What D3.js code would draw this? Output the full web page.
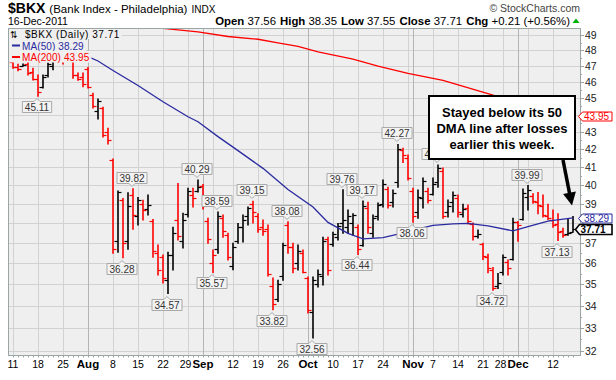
<!DOCTYPE html>
<html><head><meta charset="utf-8">
<script src="https://cdn.jsdelivr.net/npm/d3@7"></script>
<style>
body{margin:0;background:#fff;}
svg{display:block;font-family:"Liberation Sans",Arial,Helvetica,sans-serif;}
</style>
</head><body>
<svg id="c" width="616" height="380"></svg>
<script>
// ---------------- DATA ----------------
const firstDay = "2011-07-11", lastDay = "2011-12-16";
const holidays = ["2011-09-05", "2011-11-24"];
const prevCloseBefore = 47.35;

const opens = [47.25,46.95,47.02,47.10,46.60,46.20,45.70,46.40,47.00,47.60,
48.00,47.70,47.30,46.45,46.30,46.80,45.20,44.20,44.40,43.00,
41.40,37.10,39.20,37.10,39.50,38.40,39.00,38.75,38.10,36.50,
36.30,35.20,36.40,38.20,37.10,38.50,39.50,39.70,39.95,38.10,
36.00,36.70,38.30,37.40,35.90,37.10,37.80,38.40,39.00,38.40,
37.80,37.70,34.90,34.30,35.40,37.90,36.80,36.00,36.50,35.30,
33.70,35.00,35.40,37.20,36.95,37.30,38.00,37.80,38.00,37.80,
36.90,38.80,37.50,38.40,39.00,39.80,39.10,40.20,41.95,41.50,
39.70,38.60,39.30,39.70,39.55,40.20,40.80,38.60,39.10,39.30,
38.50,38.80,37.95,37.35,36.95,36.30,35.70,34.90,35.60,36.05,
36.20,38.05,38.25,39.40,39.45,39.10,38.90,38.40,38.20,37.95,
37.60,37.45,37.56];
const highs = [47.30,47.10,47.12,47.23,46.85,46.42,46.42,47.18,47.45,48.40,
48.15,47.85,47.50,46.55,46.55,46.90,45.30,44.95,44.45,43.20,
41.45,39.70,39.30,39.60,39.82,39.35,39.20,39.48,38.20,36.91,
36.42,36.55,37.80,40.10,38.53,39.85,39.85,40.29,40.05,38.27,
36.66,38.59,38.43,37.50,37.00,38.00,38.43,38.85,39.15,38.50,
38.17,37.92,35.30,35.20,37.00,38.08,37.00,36.91,36.66,35.35,
35.35,35.68,37.30,37.30,37.55,38.00,39.76,38.69,38.50,37.92,
39.17,39.10,38.43,39.06,40.29,39.90,39.75,42.27,42.05,41.68,
39.85,39.75,40.40,39.85,40.40,41.12,40.95,39.22,39.65,39.48,
39.00,38.96,38.02,37.66,37.00,36.45,35.80,35.52,36.42,36.17,
38.27,38.10,39.80,39.99,39.55,39.62,39.48,39.00,38.69,38.50,
37.75,38.20,38.35];
const lows = [46.85,46.70,46.98,46.42,46.11,45.11,45.62,46.30,46.75,47.50,
47.12,47.40,46.23,46.10,45.70,45.62,44.40,43.75,42.70,42.30,
36.50,36.55,36.28,36.70,37.70,37.92,38.17,38.43,36.30,35.44,
35.06,34.57,35.68,37.16,36.76,38.33,38.85,39.64,38.75,37.00,
35.57,36.50,37.30,36.17,35.70,37.00,37.06,37.92,38.02,37.55,
37.40,35.40,33.82,34.20,35.20,36.50,35.55,35.68,35.55,33.67,
32.56,34.88,34.97,35.44,36.85,37.16,37.50,37.50,37.40,36.44,
36.85,37.50,37.30,38.17,38.85,38.80,38.85,39.90,41.25,40.29,
38.06,38.27,38.80,39.06,39.48,39.90,38.27,38.33,38.59,38.33,
38.33,37.98,37.16,37.26,36.20,35.55,34.72,34.80,35.44,35.44,
36.17,37.10,38.17,38.70,39.05,38.50,38.33,38.20,37.80,37.13,
37.30,37.40,37.55];
const closes = [46.95,46.80,47.08,46.55,46.20,45.40,46.30,47.10,47.40,48.20,
47.55,47.45,46.40,46.20,45.85,45.70,44.50,44.80,42.80,42.55,
36.70,39.65,37.00,38.90,38.45,39.20,38.70,38.95,36.60,35.70,
35.30,36.40,37.50,37.35,38.20,39.70,39.30,39.90,38.90,37.20,
36.40,38.40,37.60,36.30,36.80,37.80,38.20,38.80,38.60,37.70,
37.60,35.50,34.10,35.00,36.90,36.80,35.80,36.60,35.60,33.80,
35.20,35.50,37.10,35.70,37.45,37.85,38.20,38.40,38.45,36.70,
38.90,37.80,38.30,38.95,40.10,38.95,39.60,42.00,41.70,40.40,
38.40,39.40,40.25,39.20,40.10,40.95,38.40,38.90,39.50,38.60,
38.75,38.10,37.35,37.45,36.35,35.80,34.85,35.05,36.30,35.80,
38.05,37.90,39.60,39.75,39.15,38.95,38.45,38.30,37.90,37.55,
37.40,37.50,37.71];

const ma50Idx = [15,17,20,25,30,35,37,41,45,50,55,60,63,67,70,74,77,80,84,88,91,95,100,103,107,112];
const ma50Val = [47.59,47.31,46.71,45.77,44.78,43.88,43.59,42.72,41.92,40.93,39.78,38.85,38.05,37.49,37.22,37.28,37.45,37.66,37.90,37.98,38.00,37.87,37.62,37.84,38.12,38.29];
const ma200Idx = [25,29,37,43,49,53,57,61,68,73,79,86,96,104,112];
const ma200Val = [49.75,49.47,49.21,48.90,48.72,48.48,48.25,47.89,47.43,46.98,46.53,46.09,45.18,44.55,43.95];

const labelIdx  = [5,22,24,31,37,40,41,48,52,55,60,66,69,70,77,80,85,96,103,109];
const labelKind = ["L","L","H","L","H","L","H","H","L","H","L","H","L","H","H","L","H","L","H","L"];

const yTickValues = [32,33,34,35,36,37,38,39,40,41,42,43,44,45,46,47,48,49];
const xTickLabels = [["2011-07-11","11"],["2011-07-18","18"],["2011-07-25","25"],["2011-08-01","Aug"],
["2011-08-08","8"],["2011-08-15","15"],["2011-08-22","22"],["2011-08-29","29"],["2011-09-01","Sep"],
["2011-09-12","12"],["2011-09-19","19"],["2011-09-26","26"],["2011-10-03","Oct"],["2011-10-10","10"],
["2011-10-17","17"],["2011-10-24","24"],["2011-11-01","Nov"],["2011-11-07","7"],["2011-11-14","14"],
["2011-11-21","21"],["2011-11-28","28"],["2011-12-01","Dec"],["2011-12-12","12"]];
const monthNames = ["Aug","Sep","Oct","Nov","Dec"];

const header = {symbol:"$BKX", name:"(Bank Index - Philadelphia)", exch:"INDX", date:"16-Dec-2011"};
const quoteLabels = ["Open","High","Low","Close","Chg"];
const quoteValues = ["37.56","38.35","37.55","37.71","+0.21 (+0.56%)"];
const noteLines = ["Stayed below its 50","DMA line after losses","earlier this week."];

// ---------------- SETUP ----------------
function tradingDays(){
  const out=[]; let t=Date.parse(firstDay+"T00:00:00Z"); const end=Date.parse(lastDay+"T00:00:00Z");
  while(t<=end){const d=new Date(t); const wd=d.getUTCDay(); const s=d.toISOString().slice(0,10);
    if(wd>0&&wd<6&&!holidays.includes(s)) out.push(s); t+=864e5;}
  return out;
}
const dates = tradingDays();
const bars = dates.map((d,i)=>({d,i,o:opens[i],h:highs[i],l:lows[i],c:closes[i],
  up: closes[i] >= (i?closes[i-1]:prevCloseBefore)}));

const P = {l:8, r:580, t:28, b:355};
const x = d3.scalePoint().domain(dates).range([13,573]);
const xi = i => x(dates[i]);
const y = d3.scaleLog().domain([31.818,49.465]).range([P.b,P.t]);

const svg = d3.select("#c");
const PLOTBG = "#efefef", GRID="#d2d2d2", GRIDM="#b4b4b4", AXIS="#9aa6a6";
const RED="#ff0000", BLUE="#2a2aa0";

svg.append("rect").attr("width",616).attr("height",380).attr("fill","#fff");
svg.append("defs").append("clipPath").attr("id","clip").append("rect")
  .attr("x",P.l).attr("y",P.t).attr("width",P.r-P.l).attr("height",P.b-P.t);
svg.append("rect").attr("x",P.l).attr("y",P.t).attr("width",P.r-P.l).attr("height",P.b-P.t).attr("fill",PLOTBG);

const plot = svg.append("g").attr("clip-path","url(#clip)");

// gridlines
plot.selectAll("line.hg").data(yTickValues).join("line")
  .attr("x1",P.l).attr("x2",P.r).attr("y1",v=>Math.round(y(v))+0.5).attr("y2",v=>Math.round(y(v))+0.5)
  .attr("stroke",GRID).attr("stroke-width",1);
const vg = [];
dates.forEach((d,i)=>{
  const dt=new Date(d+"T00:00:00Z"), pv=i?new Date(dates[i-1]+"T00:00:00Z"):null;
  const week = !pv || dt.getUTCDay()<pv.getUTCDay();
  const month = pv && dt.getUTCMonth()!==pv.getUTCMonth();
  if(week||month) vg.push({i,month});
});
plot.selectAll("line.vg").data(vg).join("line")
  .attr("x1",g=>xi(g.i)+0.5).attr("x2",g=>xi(g.i)+0.5).attr("y1",P.t).attr("y2",P.b)
  .attr("stroke",g=>g.month?GRIDM:GRID).attr("stroke-width",1);

// bars
const bg = plot.append("g");
bars.forEach(b=>{
  const col=b.up?"#000":RED, cx=xi(b.i);
  bg.append("line").attr("x1",cx).attr("x2",cx).attr("y1",y(b.h)-0.5).attr("y2",y(b.l)+0.5)
    .attr("stroke",col).attr("stroke-width",1.6);
  const yo=Math.round(y(b.o))+0.5, yc=Math.round(y(b.c))+0.5;
  bg.append("line").attr("x1",cx-3.5).attr("x2",cx).attr("y1",yo).attr("y2",yo).attr("stroke",col).attr("stroke-width",1.2);
  bg.append("line").attr("x1",cx).attr("x2",cx+3.5).attr("y1",yc).attr("y2",yc).attr("stroke",col).attr("stroke-width",1.2);
});

// moving averages
const line = d3.line().x(d=>xi(d[0])).y(d=>y(d[1]));
plot.append("path").attr("d",line(ma200Idx.map((k,j)=>[k,ma200Val[j]]))).attr("fill","none").attr("stroke",RED).attr("stroke-width",1.3);
plot.append("path").attr("d",line(ma50Idx.map((k,j)=>[k,ma50Val[j]]))).attr("fill","none").attr("stroke",BLUE).attr("stroke-width",1.3);

// price labels
const lg = plot.append("g").attr("font-size","10px").attr("fill","#333");
labelIdx.forEach((k,j)=>{
  const isH = labelKind[j]==="H";
  const v = isH?highs[k]:lows[k];
  const txt = v.toFixed(2);
  const cx = xi(k)-1, vy = y(v);
  const t = lg.append("text").attr("text-anchor","middle").attr("x",cx).text(txt);
  const w = t.node().getComputedTextLength()+5, hh=11;
  let top, path;
  if(isH){
    const bot=Math.round(vy-6)+0.5; top=bot-hh;
    path=`M${cx-w/2},${top}H${cx+w/2}V${bot}H${cx+3}L${cx},${bot+3}L${cx-3},${bot}H${cx-w/2}Z`;
  } else {
    top=Math.round(vy+5)+0.5; const bot=top+hh;
    path=`M${cx-w/2},${top}H${cx-3}L${cx},${top-3}L${cx+3},${top}H${cx+w/2}V${bot}H${cx-w/2}Z`;
  }
  lg.insert("path","text").attr("d",path).attr("fill","#f3f3f3").attr("stroke","#a9a9a9").attr("stroke-width",1);
  t.attr("y",top+hh/2+3.6);
});

// legend (each line has its own background strip)
const leg = svg.append("g").attr("font-size","10px");
const legLines = [
  {x:25, y:38, col:"#000", txt:"$BKX (Daily) "+closes[closes.length-1].toFixed(2), ls:0.55, mark:null},
  {x:22, y:49.5, col:BLUE, txt:"MA(50) "+ma50Val[ma50Val.length-1].toFixed(2), ls:0.1, mark:BLUE},
  {x:22, y:61, col:RED, txt:"MA(200) "+ma200Val[ma200Val.length-1].toFixed(2), ls:0.1, mark:RED}
];
legLines.forEach((L,k)=>{
  const r = leg.append("rect").attr("fill",PLOTBG);
  const t = leg.append("text").attr("x",L.x).attr("y",L.y).attr("fill",L.col).attr("letter-spacing",L.ls).text(L.txt);
  const w = t.node().getComputedTextLength();
  r.attr("x",P.l+1).attr("y",L.y-10 + (k===0?0:0)).attr("width",L.x+w-P.l+1).attr("height",k===0?11:11.5);
  if(L.mark) leg.append("line").attr("x1",12).attr("x2",20).attr("y1",L.y-4).attr("y2",L.y-4).attr("stroke",L.mark).attr("stroke-width",2);
});
leg.append("text").attr("x",10).attr("y",38).attr("font-size","9px").attr("fill","#000").text("⇅");

// annotation box & arrow
const ann = svg.append("g");
ann.append("rect").attr("x",429).attr("y",96).attr("width",146).attr("height",63).attr("fill","#fff").attr("stroke","#000").attr("stroke-width",2);
ann.selectAll("text").data(noteLines).join("text").attr("x",502).attr("y",(d,i)=>116.5+i*16.2)
  .attr("text-anchor","middle").attr("font-weight","bold").attr("font-size","13px").attr("fill","#000").text(d=>d);
const tipX = xi(112)-1, tipY = y(highs[112])-11;
const sx=563, sy=160, dx=tipX-sx, dy=tipY-sy, len=Math.hypot(dx,dy), ux=dx/len, uy=dy/len;
const bx=tipX-ux*13, by=tipY-uy*13;
ann.append("line").attr("x1",sx).attr("y1",sy).attr("x2",bx+ux*2).attr("y2",by+uy*2).attr("stroke","#000").attr("stroke-width",3.5);
ann.append("path").attr("d",`M${tipX},${tipY}L${bx+uy*6.5},${by-ux*6.5}L${bx-uy*6.5},${by+ux*6.5}Z`).attr("fill","#000");

// plot border
svg.append("rect").attr("x",P.l+0.5).attr("y",P.t+0.5).attr("width",P.r-P.l).attr("height",P.b-P.t)
  .attr("fill","none").attr("stroke",AXIS).attr("stroke-width",1);

// right axis
const ax = svg.append("g");
const tags = [{v:ma200Val[ma200Val.length-1],c:RED,b:false},{v:ma50Val[ma50Val.length-1],c:BLUE,b:false},{v:closes[closes.length-1],c:"#000",b:true}];
yTickValues.forEach(v=>{
  const yy=Math.round(y(v))+0.5;
  ax.append("line").attr("x1",P.r).attr("x2",P.r+4).attr("y1",yy).attr("y2",yy).attr("stroke",AXIS);
  if(tags.some(t=>Math.abs(y(t.v)-y(v))<8)) return;
  ax.append("text").attr("x",P.r+5).attr("y",yy+3.5).attr("font-size","10.5px").attr("fill","#222").text(v);
});
d3.range(32.5,49.5,1).forEach(v=>{const yy=Math.round(y(v))+0.5;
  ax.append("line").attr("x1",P.r).attr("x2",P.r+2).attr("y1",yy).attr("y2",yy).attr("stroke",AXIS);});
tags.forEach(t=>{
  const yy=Math.round(y(t.v))+0.5, px=t.b?575.5:578.5, h=t.b?5:4.5;
  ax.append("path").attr("d",`M${px},${yy}L${px+4},${yy-h}H612V${yy+h}H${px+4}Z`)
    .attr("fill","#fff").attr("stroke",t.c).attr("stroke-width",t.b?1.6:1);
  ax.append("text").attr("x",px+(t.b?5:5.5)).attr("y",yy+3.6).attr("font-size","10px")
    .attr("font-weight",t.b?"bold":"normal").attr("fill",t.b?"#000":t.c).text(t.v.toFixed(2));
});

// bottom ticks & labels
dates.forEach((d,i)=>{ax.append("line").attr("x1",xi(i)+0.5).attr("x2",xi(i)+0.5).attr("y1",P.b).attr("y2",P.b+2.5).attr("stroke",AXIS);});
const xl = svg.append("g").attr("fill","#000");
const lbls = xTickLabels.map(([d,s])=>{
  const isM = monthNames.includes(s);
  const t = xl.append("text").attr("y",368).attr("font-size",isM?"11.5px":"10.5px").attr("font-weight",isM?"bold":"normal").text(s);
  const w = t.node().getComputedTextLength();
  return {t,w,cx:x(d),isM,x0:x(d)-w/2};
});
lbls.forEach((L,k)=>{
  const N = lbls[k+1];
  if(!L.isM && N && N.isM && L.x0+L.w > N.x0-1) L.x0 = N.x0-1-L.w;
  L.t.attr("x",L.x0);
});

// header
const hd = svg.append("g").attr("fill","#000");
const tt = hd.append("text").attr("x",8).attr("y",13);
tt.append("tspan").attr("font-weight","bold").attr("font-size","14px").text(header.symbol);
tt.append("tspan").attr("font-size","11.5px").attr("dx",4).text(header.name);
tt.append("tspan").attr("font-size","10px").attr("dx",4).text(header.exch);
hd.append("text").attr("x",8).attr("y",25).attr("font-size","10.5px").text(header.date);
hd.append("text").attr("x",580).attr("y",11.5).attr("text-anchor","end").attr("font-size","10.5px").attr("fill","#444").text("© StockCharts.com");
const q = hd.append("text").attr("x",570).attr("y",25).attr("text-anchor","end").attr("font-size","11.4px");
quoteLabels.forEach((lab,k)=>{
  q.append("tspan").attr("font-weight","bold").attr("dx",k?4:0).text(lab);
  q.append("tspan").text(" "+quoteValues[k]);
});
hd.append("path").attr("d","M572.5,23L576,18.5L579.5,23Z").attr("fill","#00b000");
</script>
</body></html>
